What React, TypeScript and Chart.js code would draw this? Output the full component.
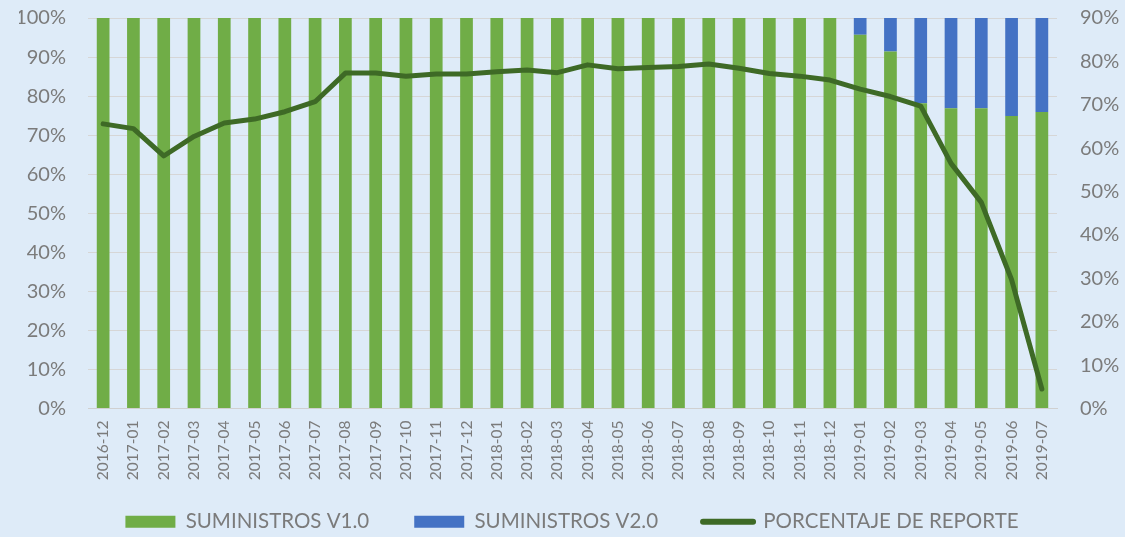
import React, { useEffect, useRef } from "react";
import { Chart, registerables } from "chart.js";

Chart.register(...registerables);

const categories = [
  "2016-12",
  "2017-01", "2017-02", "2017-03", "2017-04", "2017-05", "2017-06",
  "2017-07", "2017-08", "2017-09", "2017-10", "2017-11", "2017-12",
  "2018-01", "2018-02", "2018-03", "2018-04", "2018-05", "2018-06",
  "2018-07", "2018-08", "2018-09", "2018-10", "2018-11", "2018-12",
  "2019-01", "2019-02", "2019-03", "2019-04", "2019-05", "2019-06", "2019-07",
];

const suministrosV1 = [
  100,
  100, 100, 100, 100, 100, 100, 100, 100, 100, 100, 100, 100,
  100, 100, 100, 100, 100, 100, 100, 100, 100, 100, 100, 100,
  95.7, 91.4, 78.2, 76.9, 76.9, 74.9, 75.9,
];

const suministrosV2 = [
  0,
  0, 0, 0, 0, 0, 0, 0, 0, 0, 0, 0, 0,
  0, 0, 0, 0, 0, 0, 0, 0, 0, 0, 0, 0,
  4.3, 8.6, 21.8, 23.1, 23.1, 25.1, 24.1,
];

const porcentajeReporte = [
  65.6, 64.5, 58.2, 62.7, 65.8, 66.7, 68.4, 70.7, 77.3, 77.3, 76.6, 77.1, 77.1,
  77.6, 78.0, 77.4, 79.2, 78.3, 78.6, 78.8, 79.4, 78.4, 77.2, 76.6, 75.7,
  73.6, 71.9, 69.7, 56.5, 47.5, 29.7, 4.5,
];

const leftTicks = { min: 0, max: 100, step: 10 };
const rightTicks = { min: 0, max: 90, step: 10 };

const BG = "#DEEBF8";
const TEXT = "#7B7B7B";
const LINE = "#3E6A26";

export default function App() {
  const ref = useRef<HTMLCanvasElement | null>(null);

  useEffect(() => {
    const prevMargin = document.body.style.margin;
    const prevBg = document.body.style.background;
    document.body.style.margin = "0";
    document.body.style.background = BG;
    if (!ref.current) return;
    const chart = new Chart(ref.current, {
      type: "bar",
      data: {
        labels: categories,
        datasets: [
          {
            type: "bar",
            label: "SUMINISTROS V1.0",
            data: suministrosV1,
            backgroundColor: "#70AD47",
            borderWidth: 0,
            yAxisID: "y",
            stack: "s",
            order: 1,
          },
          {
            type: "bar",
            label: "SUMINISTROS V2.0",
            data: suministrosV2,
            backgroundColor: "#4472C4",
            borderWidth: 0,
            yAxisID: "y",
            stack: "s",
            order: 1,
          },
          {
            type: "line",
            label: "PORCENTAJE DE REPORTE",
            data: porcentajeReporte,
            borderColor: LINE,
            backgroundColor: LINE,
            borderWidth: 5,
            borderCapStyle: "round",
            borderJoinStyle: "round",
            pointRadius: 0,
            tension: 0,
            yAxisID: "y1",
            order: 0,
          } as any,
        ],
      },
      options: {
        animation: false,
        responsive: false,
        maintainAspectRatio: false,
        layout: { padding: { top: 18, left: 19, right: 0, bottom: -5 } },
        datasets: {
          bar: { categoryPercentage: 1, barPercentage: 0.42 },
        } as any,
        plugins: {
          tooltip: { enabled: false },
          legend: {
            position: "bottom",
            labels: {
              usePointStyle: true,
              pointStyleWidth: 50,
              boxHeight: 12,
              padding: 45,
              color: TEXT,
              font: { family: "Lato", size: 20.5 },
              sort: (a: any, b: any) => a.datasetIndex - b.datasetIndex,
              generateLabels: (c: any) => {
                const items = Chart.defaults.plugins.legend.labels.generateLabels(c);
                return items.map((it: any) => {
                  if (it.datasetIndex === 2) {
                    return { ...it, pointStyle: "line", lineWidth: 6, lineCap: "round", strokeStyle: LINE };
                  }
                  return { ...it, pointStyle: "rect", lineWidth: 0 };
                });
              },
            },
          },
        },
        scales: {
          x: {
            stacked: true,
            grid: { display: false, drawTicks: false },
            border: { display: true, color: "#D0D0D0", width: 1 },
            ticks: {
              minRotation: 90,
              maxRotation: 90,
              autoSkip: false,
              padding: 12,
              color: TEXT,
              font: { family: "Lato", size: 15.5 },
            },
            afterFit: (s: any) => {
              s.height = 58;
              s._computeLabelArea = () => undefined;
            },
          },
          y: {
            stacked: true,
            position: "left",
            min: leftTicks.min,
            max: leftTicks.max,
            grid: { color: "#D6D6D6", drawTicks: false },
            border: { display: false },
            ticks: {
              stepSize: leftTicks.step,
              padding: 22,
              color: TEXT,
              font: { family: "Lato", size: 20 },
              callback: (v: any) => v + "%",
            },
            afterFit: (s: any) => {
              s.width = 69;
              s.paddingTop = 0;
              s.paddingBottom = 0;
            },
          },
          y1: {
            position: "right",
            min: rightTicks.min,
            max: rightTicks.max,
            stacked: false,
            grid: { display: false, drawTicks: false },
            border: { display: false },
            ticks: {
              stepSize: rightTicks.step,
              padding: 23,
              color: TEXT,
              font: { family: "Lato", size: 20 },
              callback: (v: any) => v + "%",
            },
            afterFit: (s: any) => {
              s.width = 68;
              s.paddingTop = 0;
              s.paddingBottom = 0;
            },
          },
        },
      },
    });
    return () => {
      chart.destroy();
      document.body.style.margin = prevMargin;
      document.body.style.background = prevBg;
    };
  }, []);

  return (
    <div style={{ width: 1125, height: 537, background: BG }}>
      <canvas ref={ref} width={1125} height={537} style={{ display: "block" }} />
    </div>
  );
}
